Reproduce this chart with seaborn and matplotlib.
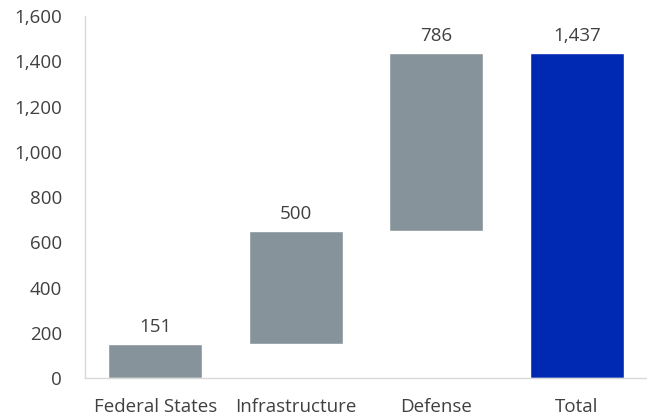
import matplotlib
matplotlib.use("Agg")
import matplotlib.pyplot as plt
import seaborn as sns

# waterfall data
categories = ["Federal States", "Infrastructure", "Defense", "Total"]
values = [151, 500, 786, 1437]
bases = [0, 151, 651, 0]
labels = ["151", "500", "786", "1,437"]
colors = ["#87939a", "#87939a", "#87939a", "#0029b3"]

sns.set_style("white")
plt.rcParams["font.family"] = ["Open Sans", "DejaVu Sans"]

fig = plt.figure(figsize=(6.47, 4.17), dpi=100)
ax = fig.add_axes([0.1314, 0.0935, 0.8686, 0.8681])

sns.barplot(x=categories, y=values, hue=categories, palette=colors,
            width=0.67, legend=False, saturation=1, ax=ax)

# shift floating bars up to their base and add labels
for patch, base, lab in zip(ax.patches, bases, labels):
    patch.set_y(base)
    cx = patch.get_x() + patch.get_width() / 2
    ax.text(cx, base + patch.get_height() + 36, lab, ha="center", va="bottom",
            fontsize=13.5, color="#404040")

ax.set_ylim(0, 1600)
ax.set_xlim(-0.5, 3.5)
ax.set_yticks(range(0, 1601, 200))
ax.set_yticklabels([f"{v:,}" for v in range(0, 1601, 200)])
ax.set_xticks([0, 1, 2, 3])
ax.set_xticklabels(categories)

# tick marks between categories on the x axis
ax.set_xticks([-0.5, 0.5, 1.5, 2.5, 3.5], minor=True)
ax.tick_params(axis="x", which="major", length=0, pad=14.5, labelsize=13.5, labelcolor="#404040")
ax.tick_params(axis="x", which="minor", length=5, color="#d9d9d9", width=1)
ax.tick_params(axis="y", length=5, color="#d9d9d9", width=1, pad=11.5, labelsize=13.5, labelcolor="#404040")

sns.despine(ax=ax, top=True, right=True)
for side in ["left", "bottom"]:
    ax.spines[side].set_color("#d9d9d9")
    ax.spines[side].set_linewidth(1)

fig.savefig("out.png", dpi=100)
